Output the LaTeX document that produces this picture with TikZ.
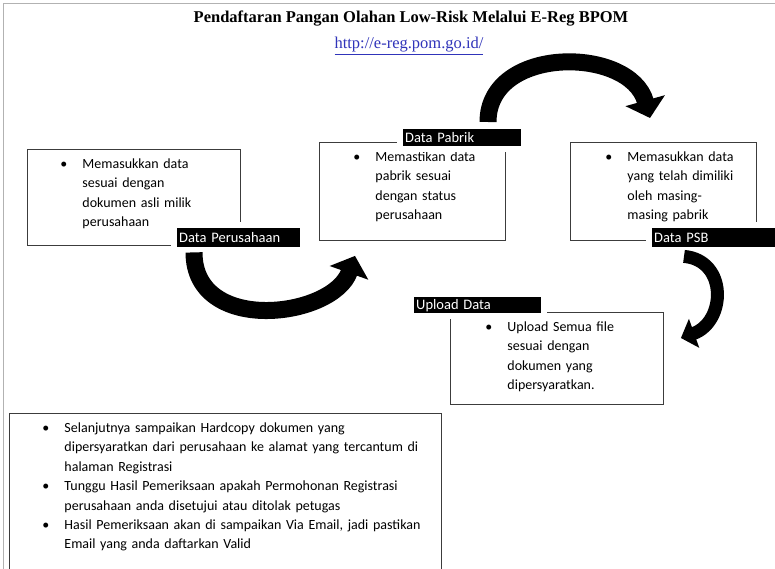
\documentclass[tikz,border=0pt]{standalone}
\usepackage{fontspec}
\setmainfont{Carlito}
\newfontfamily\headfont{Liberation Serif}
\usepackage{tikz}
\usetikzlibrary{arrows.meta}
\definecolor{linkblue}{RGB}{48,52,186}
\definecolor{boxline}{RGB}{60,60,60}
\newcommand{\bul}[1]{\mbox{\makebox[22pt][l]{\textbullet}#1}}
\newcommand{\ind}[1]{\mbox{\hspace*{22pt}#1}}

\begin{document}
\begin{tikzpicture}[x=1pt, y=-1pt,
  every node/.style={font=\fontsize{14}{19.4}\selectfont},
  stepbox/.style={draw=boxline, line width=0.9pt, anchor=north west, align=left,
    inner xsep=33pt, inner ysep=0pt, text height=19pt},
  tagbox/.style={fill=black, text=white, anchor=north west, align=left,
    inner xsep=2pt, inner ysep=0pt, preaction={draw=white, line width=12pt},
    font=\fontsize{14.5}{16}\selectfont},
  bigarrow/.style={black, line width=17pt, -{Triangle[length=18pt, width=40pt]}}]
\clip (0,0) rectangle (775,569);
\fill[white] (0,0) rectangle (775,569);
\draw[gray!60] (3,3) rectangle (790,590);
% ---- heading
\node[font=\headfont\bfseries\fontsize{16.5}{18}\selectfont] (title) at (411,19)
  {Pendaftaran Pangan Olahan Low-Risk Melalui E-Reg BPOM};
\node[font=\headfont\fontsize{16.5}{18}\selectfont, text=linkblue] (url) at (409,46)
  {\underline{http://e-reg.pom.go.id/}};
% ---- the four steps
\node[stepbox, text width=147pt, text depth=77pt] (perusahaan) at (27,149)
  {\bul{Memasukkan data}\\ \ind{sesuai dengan}\\ \ind{dokumen asli milik}\\ \ind{perusahaan}};
\node[stepbox, text width=118pt, text depth=79pt, inner xsep=34pt] (pabrik) at (319,142)
  {\bul{Memastikan data}\\ \ind{pabrik sesuai}\\ \ind{dengan status}\\ \ind{perusahaan}};
\node[stepbox, text width=116pt, text depth=79pt, inner xsep=35pt] (psb) at (570,142)
  {\bul{Memasukkan data}\\ \ind{yang telah dimiliki}\\ \ind{oleh masing-}\\ \ind{masing pabrik}};
\node[stepbox, text width=143pt, text depth=73pt, inner xsep=35pt] (upload) at (450,312)
  {\bul{Upload Semua file}\\ \ind{sesuai dengan}\\ \ind{dokumen yang}\\ \ind{dipersyaratkan.}};
% ---- black tags
\node[tagbox, text width=119pt, minimum height=19pt] (tagA) at (177,228) {Data Perusahaan};
\node[tagbox, text width=114pt, minimum height=17pt] (tagB) at (403,129) {Data Pabrik};
\node[tagbox, text width=119pt, minimum height=19pt] (tagC) at (652,228) {Data PSB};
\node[tagbox, text width=123pt, minimum height=16pt] (tagD) at (414,297) {Upload Data};
% ---- curved arrows
\draw[bigarrow] ([shift={(17,5)}]tagA.south west) .. controls +(0,83) and +(-22,62)
  .. ([shift={(36,15)}]pabrik.south west);
\draw[bigarrow] ([shift={(85,-7)}]tagB.north west) .. controls +(0,-77) and +(-20,-72)
  .. ([shift={(80,-24)}]psb.north west);
\draw[bigarrow, line width=13pt, -{Triangle[length=14pt, width=30pt]}]
  ([shift={(32,9)}]tagC.south west) .. controls +(44,4) and +(45,-16)
  .. ([shift={(17,26)}]upload.north east);
% ---- what comes next
\node[stepbox, text width=366pt, text depth=146pt] (next) at (9,413)
  {\bul{Selanjutnya sampaikan Hardcopy dokumen yang}\\
   \ind{dipersyaratkan dari perusahaan ke alamat yang tercantum di}\\
   \ind{halaman Registrasi}\\
   \bul{Tunggu Hasil Pemeriksaan apakah Permohonan Registrasi}\\
   \ind{perusahaan anda disetujui atau ditolak petugas}\\
   \bul{Hasil Pemeriksaan akan di sampaikan Via Email, jadi pastikan}\\
   \ind{Email yang anda daftarkan Valid}};
\end{tikzpicture}
\end{document}
